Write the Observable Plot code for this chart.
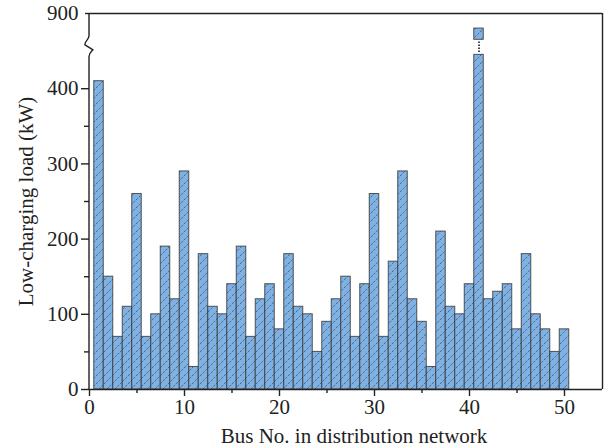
<!DOCTYPE html>
<html><head><meta charset="utf-8">
<script src="https://cdn.jsdelivr.net/npm/d3@7"></script>
<script src="https://cdn.jsdelivr.net/npm/@observablehq/plot@0.6"></script>
<style>body{margin:0;background:#fff} svg{display:block}</style>
</head><body><div id="chart"></div>
<script>
const buses = d3.range(1, 51);
const loads = [410,150,70,110,260,70,100,190,120,290,30,180,110,100,140,190,70,120,140,80,
               180,110,100,50,90,120,150,70,140,260,70,170,290,120,90,30,210,110,100,140,
               880,120,130,140,80,180,100,80,50,80];
const yMajorTicks = [0,100,200,300,400];
const yTopTick = [900];
const yMinorTicks = [50,150,250,350];
const xMajorTicks = [0,10,20,30,40,50];
const xMinorTicks = [5,15,25,35,45];
const xLabel = "Bus No. in distribution network";
const yLabel = "Low-charging load (kW)";

// axis break: values between breakStart and breakEnd are cut out of the y axis
const breakStart = 450, breakEnd = 850;
const barCutLow = 445, barCutHigh = 865;
const disp = v => v <= breakStart ? v : v - (breakEnd - breakStart);
const undisp = d => d <= breakStart ? d : d + (breakEnd - breakStart);

const data = buses.map((b, i) => ({bus: b, load: loads[i]}));
const broken = data.filter(d => d.load > barCutHigh);

const font = "Liberation Serif, Times New Roman, serif";
const ink = "#222";
const fs = 21;

const defs = () => {
  const g = d3.create("svg:defs");
  const p = g.append("pattern").attr("id", "hatch").attr("patternUnits", "userSpaceOnUse")
    .attr("width", 8).attr("height", 8);
  p.append("rect").attr("width", 8).attr("height", 8).attr("fill", "#7fb1e3");
  p.append("path").attr("d", "M0,8 L8,0 M-2,2 L2,-2 M6,10 L10,6")
    .attr("stroke", "#2c3d58").attr("stroke-width", 0.8).attr("stroke-dasharray", "2.6,1.2")
    .attr("stroke-opacity", 0.8);
  return g.node();
};

const yAxisWithBreak = (index, scales, values, dims) => {
  const x0 = scales.x(0);
  const yTop = scales.y(disp(900));
  const yBot = scales.y(0);
  const yc = scales.y((disp(barCutLow) + disp(barCutHigh)) / 2);
  const g = d3.create("svg:g").attr("fill", "none").attr("stroke", ink)
    .attr("stroke-width", 1.4).attr("stroke-linejoin", "round");
  g.append("path").attr("d",
    `M${x0},${yTop} L${x0},${yc - 11} C${x0},${yc - 7} ${x0 - 5},${yc - 5} ${x0 - 4},${yc - 2} ` +
    `L${x0 + 4},${yc + 3} C${x0 + 2},${yc + 5} ${x0},${yc + 6} ${x0},${yc + 10} L${x0},${yBot}`);
  return g.node();
};

const chart = Plot.plot({
  width: 613, height: 448,
  marginLeft: 89, marginRight: 11, marginTop: 13, marginBottom: 59,
  style: {fontFamily: font, fontSize: fs + "px", color: ink, background: "#fff"},
  x: {domain: [0, 54]},
  y: {domain: [0, disp(900)]},
  marks: [
    defs,
    Plot.rectY(data, {x1: d => d.bus - 0.5, x2: d => d.bus + 0.5, y1: 0,
      y2: d => disp(d.load > barCutHigh ? barCutLow : d.load),
      fill: "url(#hatch)", stroke: "#3a3a3a", strokeWidth: 1, strokeOpacity: 0.85}),
    Plot.rectY(broken, {x1: d => d.bus - 0.5, x2: d => d.bus + 0.5,
      y1: disp(barCutHigh), y2: d => disp(d.load),
      fill: "url(#hatch)", stroke: "#3a3a3a", strokeWidth: 1, strokeOpacity: 0.85}),
    Plot.ruleX(broken, {x: "bus", y1: disp(barCutLow) + 3, y2: disp(barCutHigh) - 3,
      stroke: "#444", strokeWidth: 2, strokeDasharray: "1.5,1.5"}),
    Plot.ruleY([disp(900)], {stroke: ink, strokeWidth: 1.4}),
    Plot.ruleY([0], {stroke: ink, strokeWidth: 1.4}),
    Plot.ruleX([54], {stroke: ink, strokeWidth: 1.4}),
    yAxisWithBreak,
    Plot.axisY(yMajorTicks.map(disp), {tickSize: 8, tickPadding: 3, label: null, fontSize: fs,
      tickFormat: d => undisp(d), stroke: ink, strokeWidth: 1.4}),
    Plot.axisY(yTopTick.map(disp), {tickSize: 4, tickPadding: 7, label: null, fontSize: fs,
      tickFormat: d => undisp(d), stroke: ink, strokeWidth: 1.4}),
    Plot.axisY(yMinorTicks.map(disp), {tickSize: 5, label: null, tickFormat: () => "",
      stroke: ink, strokeWidth: 1.4}),
    Plot.axisX(xMajorTicks, {tickSize: 7, tickPadding: 3, label: null, fontSize: fs, stroke: ink, strokeWidth: 1.4}),
    Plot.axisX(xMinorTicks, {tickSize: 4, label: null, tickFormat: () => "", stroke: ink, strokeWidth: 1.4}),
    Plot.text([xLabel], {frameAnchor: "bottom", dy: 47, dx: 8, lineAnchor: "middle", fontSize: fs, fill: ink}),
    Plot.text([yLabel], {frameAnchor: "left", dx: -63, rotate: -90, textAnchor: "middle",
      lineAnchor: "middle", fontSize: fs, fill: ink})
  ]
});
document.getElementById("chart").append(chart);
</script>
</body></html>
